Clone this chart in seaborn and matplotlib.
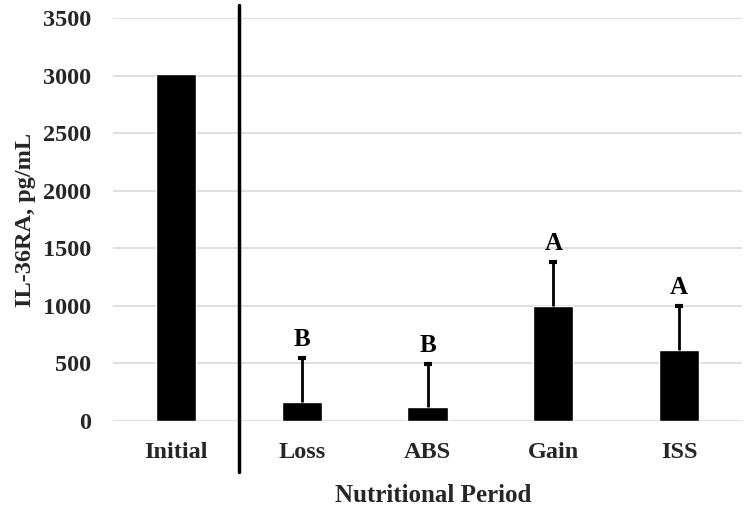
import matplotlib
matplotlib.use("Agg")
import matplotlib.pyplot as plt
import seaborn as sns
import numpy as np
import pandas as pd

periods = ["Initial", "Loss", "ABS", "Gain", "ISS"]
means = [3010, 165, 125, 1000, 620]
errors = [0, 380, 370, 380, 375]
letters = ["", "B", "B", "A", "A"]
yticks = [0, 500, 1000, 1500, 2000, 2500, 3000, 3500]

sns.set_theme(style="white")
plt.rcParams["font.family"] = ["Liberation Serif", "DejaVu Serif"]
plt.rcParams["font.weight"] = "bold"

fig = plt.figure(figsize=(7.46, 5.08), dpi=100)
ax = fig.add_axes([113/746, 1 - 421/508, (742-113)/746, (421-18)/508])

df = pd.DataFrame({"Period": periods, "Value": means})
sns.barplot(data=df, x="Period", y="Value", color="black", width=0.32,
            saturation=1, errorbar=None, ax=ax, zorder=3)

xs = np.arange(len(periods))
for i in range(1, len(periods)):
    _, caps, _ = ax.errorbar(xs[i], means[i], yerr=[[0], [errors[i]]], fmt="none",
                             ecolor="black", elinewidth=2, capsize=3, capthick=3,
                             zorder=4)
    # keep only the upper cap
    for c in caps:
        if c.get_ydata()[0] <= means[i]:
            c.set_visible(False)
    ax.annotate(letters[i], xy=(xs[i], means[i] + errors[i]), xytext=(0, 5),
                textcoords="offset points", ha="center", va="bottom",
                fontsize=18, fontweight="bold", color="black")

ax.set_ylim(0, 3500)
ax.set_yticks(yticks)
ax.set_yticklabels([str(t) for t in yticks], fontsize=17.5, fontweight="bold")
ax.set_xticks(xs)
ax.set_xticklabels(periods, fontsize=17.5, fontweight="bold")
ax.set_xlim(-0.5, len(periods) - 0.5)
ax.tick_params(axis="y", length=0, pad=16)
ax.tick_params(axis="x", length=0, pad=15)
ax.yaxis.grid(True, color="#d9d9d9", linewidth=1.2, zorder=0)
ax.set_axisbelow(True)
for s in ax.spines.values():
    s.set_visible(False)

ax.set_ylabel("IL-36RA, pg/mL", fontsize=17.5, fontweight="bold", labelpad=5)
ax.set_xlabel("Nutritional Period", fontsize=18, fontweight="bold")
ax.xaxis.set_label_coords(0.509, -0.157)

# vertical separator between Initial and the nutritional periods
ax.plot([0.5, 0.5], [(421-5)/403, -(472-421)/403], color="black", linewidth=2.5,
        transform=ax.get_xaxis_transform(), clip_on=False, zorder=5)

fig.savefig("out.png", dpi=100)
